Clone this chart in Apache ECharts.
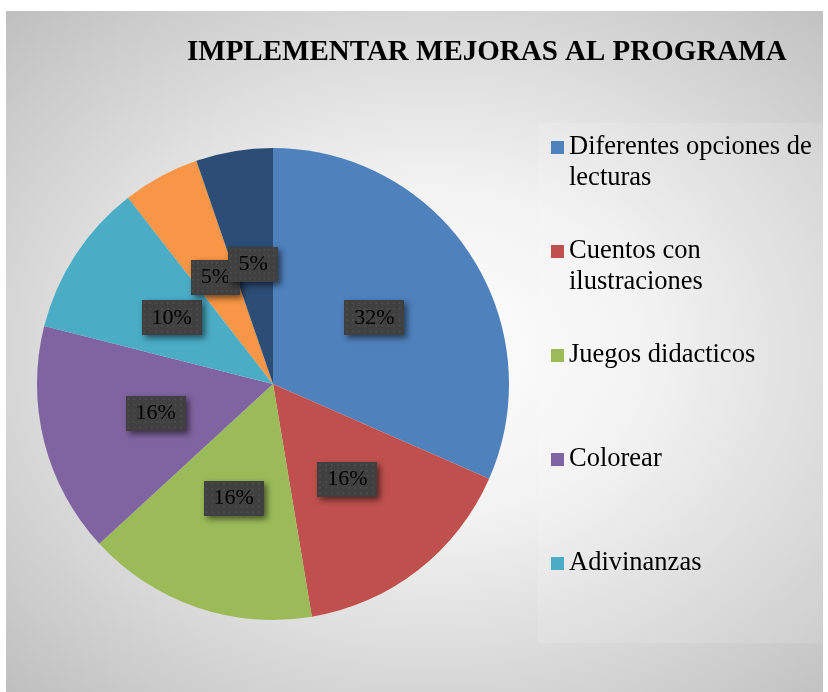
<!DOCTYPE html>
<html>
<head>
<meta charset="utf-8">
<script src="https://cdn.jsdelivr.net/npm/echarts@6/dist/echarts.min.js"></script>
<style>
  html, body { margin: 0; padding: 0; background: #fff; }
  #chart {
    position: absolute;
    left: 6px;
    top: 11px;
    width: 817px;
    height: 681px;
    background: radial-gradient(ellipse at 52% 50%, #ffffff 0%, #f2f2f2 35%, #bfbfbf 100%);
  }
</style>
</head>
<body>
<div id="chart"></div>
<script>
// datos del grafico
const categorias = [
  'Diferentes opciones de lecturas',
  'Cuentos con ilustraciones',
  'Juegos didacticos',
  'Colorear',
  'Adivinanzas',
  'Categoria 6',
  'Categoria 7'
]
const valores = [6, 3, 3, 3, 2, 1, 1]
const etiquetas = ['32%', '16%', '16%', '16%', '10%', '5%', '5%']
const colores = ['#4F81BD', '#C0504D', '#9BBB59', '#8064A2', '#4BACC6', '#F79646', '#2C4D75']
// solo se ven 5 en la leyenda
const leyenda = categorias.slice(0, 5)
const cortes = {
  'Diferentes opciones de lecturas': 'Diferentes opciones de\nlecturas',
  'Cuentos con ilustraciones': 'Cuentos con\nilustraciones'
}

// fondo punteado de las etiquetas
function patron (w, h) {
  const c = document.createElement('canvas')
  c.width = w
  c.height = h
  const ctx = c.getContext('2d')
  ctx.fillStyle = '#404040'
  ctx.fillRect(0, 0, w, h)
  ctx.fillStyle = '#4c4c4c'
  for (let y = 2; y < h; y += 6) {
    for (let x = 2; x < w; x += 6) {
      ctx.fillRect(x, y, 2, 2)
    }
  }
  return c
}
const fondoEtiqueta = patron(62, 37)

const myChart = echarts.init(document.getElementById('chart'))
const options = {
  animation: false,
  title: {
    text: 'IMPLEMENTAR MEJORAS AL PROGRAMA',
    left: 181,
    top: 27,
    padding: 0,
    textStyle: {
      fontFamily: 'Liberation Serif',
      fontWeight: 'bold',
      fontSize: 29,
      color: '#000'
    }
  },
  graphic: [{
    type: 'rect',
    left: 532,
    top: 112,
    shape: { width: 285, height: 520 },
    style: { fill: 'rgba(255,255,255,0.12)' },
    silent: true
  }],
  legend: {
    orient: 'vertical',
    left: 545,
    top: 90,
    padding: 0,
    itemGap: 11,
    itemWidth: 13,
    itemHeight: 13,
    icon: 'rect',
    data: leyenda,
    formatter: function (name) {
      const t = cortes[name] || name
      // linea vacia arriba para alinear el icono con la primera linea
      return '\n' + t + (cortes[name] ? '' : '\n ')
    },
    textStyle: {
      fontFamily: 'Liberation Serif',
      fontSize: 26.5,
      lineHeight: 31,
      color: '#000'
    }
  },
  series: [{
    type: 'pie',
    center: [267, 373],
    radius: [0, 236],
    startAngle: 90,
    clockwise: true,
    avoidLabelOverlap: false,
    labelLayout: { hideOverlap: false },
    data: categorias.map((n, i) => ({
      name: n,
      value: valores[i],
      itemStyle: { color: colores[i] }
    })),
    label: {
      show: true,
      position: 'inside',
      formatter: function (p) {
        return etiquetas[p.dataIndex]
      },
      fontFamily: 'Liberation Serif',
      fontSize: 22,
      color: '#000',
      backgroundColor: { image: fondoEtiqueta },
      padding: [7, 10, 6, 10],
      shadowBlur: 6,
      shadowColor: 'rgba(0,0,0,0.55)',
      shadowOffsetX: 3,
      shadowOffsetY: 3
    },
    labelLine: { show: false },
    emphasis: { disabled: true }
  }]
}
myChart.setOption(options)
</script>
</body>
</html>
